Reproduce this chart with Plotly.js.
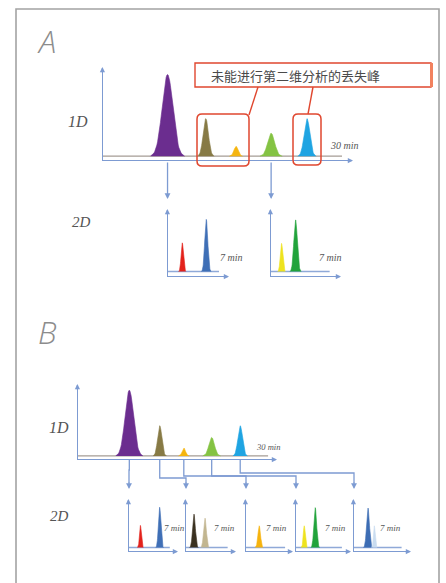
<!DOCTYPE html>
<html><head><meta charset="utf-8">
<script src="https://cdn.plot.ly/plotly-3.0.1.min.js"></script>
<style>html,body{margin:0;padding:0;background:#fff;}#chart{width:446px;height:583px;}</style>
</head><body><div id="chart"></div>
<script>
// ---------- DATA ----------
// First dimension (1D) chromatogram, 0–30 min
const peak1DNames  = ['purple', 'olive', 'orange', 'green', 'cyan'];
const peak1DTime   = [8.1, 12.9, 16.7, 21.1, 25.6];
const peak1DHeight = [100, 46, 12, 28, 46];
const peak1DWidth  = [0.67, 0.33, 0.26, 0.44, 0.36];
const peak1DColor  = ['#6b2d8f', '#877a45', '#f5b50f', '#84c343', '#1fa4e2'];

// Second dimension (2D) chromatograms, 0–7 min, one per transferred 1D peak
const fracPurpleTime = [1.9, 5.1];   const fracPurpleHeight = [55, 100];
const fracPurpleWidth = [0.15, 0.2]; const fracPurpleColor = ['#e3221b', '#3f6fb6'];
const fracOliveTime = [1.3, 3.1];    const fracOliveHeight = [83, 73];
const fracOliveWidth = [0.22, 0.22]; const fracOliveColor = ['#3a3120', '#c2b690'];
const fracOrangeTime = [2.3];        const fracOrangeHeight = [54];
const fracOrangeWidth = [0.22];      const fracOrangeColor = ['#f6b30e'];
const fracGreenTime = [1.22, 2.85];  const fracGreenHeight = [54, 99];
const fracGreenWidth = [0.14, 0.2];  const fracGreenColor = ['#eee31f', '#21a33b'];
const fracCyanTime = [2.0, 2.9];     const fracCyanHeight = [98, 54];
const fracCyanWidth = [0.2, 0.12];   const fracCyanColor = ['#3d6db4', '#c9dcf0'];

const calloutText = '未能进行第二维分析的丢失峰';

// ---------- LAYOUT HELPERS ----------
const W = 446, H = 583;
const fx = p => p / W;
const fy = p => 1 - p / H;
const AX = '#7d9bd2';
const range1DX = [0, 31.25], range1DY = [-4.7, 108];
const range2DX = [0, 8], range2DY = [-8.5, 118];

// panels: pixel boxes [x0,x1] [yTop,yBottom]
const panels = [
  {name:'A1D', x:[103,352], y:[68,160], xr:range1DX, yr:range1DY},
  {name:'A2Dpurple', x:[168,228], y:[210,276], xr:range2DX, yr:range2DY},
  {name:'A2Dgreen', x:[271,340], y:[210,276], xr:range2DX, yr:range2DY},
  {name:'B1D', x:[78,276], y:[385,459], xr:range1DX, yr:range1DY},
  {name:'B2Dpurple', x:[129,177], y:[500,551], xr:range2DX, yr:range2DY},
  {name:'B2Dolive', x:[186,235], y:[500,551], xr:range2DX, yr:range2DY},
  {name:'B2Dorange', x:[246,292], y:[500,551], xr:range2DX, yr:range2DY},
  {name:'B2Dgreen', x:[296,350], y:[500,551], xr:range2DX, yr:range2DY},
  {name:'B2Dcyan', x:[354,410], y:[500,551], xr:range2DX, yr:range2DY}
];

function peakTrace(t, h, s, color, k) {
  const xs = [t - 3.2 * s], ys = [0];
  const n = 48;
  for (let i = 0; i <= n; i++) {
    const x = t - 3.2 * s + 6.4 * s * i / n;
    xs.push(x); ys.push(h * Math.exp(-0.5 * Math.pow((x - t) / s, 2)));
  }
  xs.push(t + 3.2 * s); ys.push(0);
  const sfx = k === 1 ? '' : String(k);
  return {type:'scatter', mode:'lines', x:xs, y:ys, fill:'toself', fillcolor:color,
    line:{color:color, width:0.6}, xaxis:'x'+sfx, yaxis:'y'+sfx, hoverinfo:'skip'};
}
function baselineTrace(x0, x1, color, k) {
  const sfx = k === 1 ? '' : String(k);
  return {type:'scatter', mode:'lines', x:[x0, x1], y:[0, 0], line:{color:color, width:1.4},
    xaxis:'x'+sfx, yaxis:'y'+sfx, hoverinfo:'skip'};
}

const traces = [];
const layout = {
  width: W, height: H, margin:{l:0, r:0, t:0, b:0}, showlegend:false,
  paper_bgcolor:'#ffffff', plot_bgcolor:'rgba(0,0,0,0)',
  shapes: [], annotations: []
};

panels.forEach((p, i) => {
  const k = i + 1, sfx = k === 1 ? '' : String(k);
  layout['xaxis' + sfx] = {domain:[fx(p.x[0]), fx(p.x[1])], range:p.xr, showgrid:false, zeroline:false,
    showticklabels:false, ticks:'', showline:true, linecolor:AX, linewidth:1.3, fixedrange:true, anchor:'y'+sfx};
  layout['yaxis' + sfx] = {domain:[fy(p.y[1]), fy(p.y[0])], range:p.yr, showgrid:false, zeroline:false,
    showticklabels:false, ticks:'', showline:true, linecolor:AX, linewidth:1.3, fixedrange:true, anchor:'x'+sfx};
  // arrow tips on axes
  layout.annotations.push({xref:'paper', yref:'paper', x:fx(p.x[1] + 1), y:fy(p.y[1] + 0.6), ax:-7, ay:0,
    text:'', showarrow:true, arrowhead:2, arrowsize:0.8, arrowwidth:1.3, arrowcolor:AX});
  layout.annotations.push({xref:'paper', yref:'paper', x:fx(p.x[0] - 0.6), y:fy(p.y[0] - 1), ax:0, ay:7,
    text:'', showarrow:true, arrowhead:2, arrowsize:0.8, arrowwidth:1.3, arrowcolor:AX});
});

// 1D chromatograms in A (panel 1) and B (panel 4)
[1, 4].forEach(k => {
  traces.push(baselineTrace(0, 30, '#a59c95', k));
  peak1DTime.forEach((t, i) => traces.push(peakTrace(t, peak1DHeight[i], peak1DWidth[i], peak1DColor[i], k)));
});

// 2D chromatograms
const frac2D = [
  [2, fracPurpleTime, fracPurpleHeight, fracPurpleWidth, fracPurpleColor],
  [3, fracGreenTime, fracGreenHeight, fracGreenWidth, fracGreenColor],
  [5, fracPurpleTime, fracPurpleHeight, fracPurpleWidth, fracPurpleColor],
  [6, fracOliveTime, fracOliveHeight, fracOliveWidth, fracOliveColor],
  [7, fracOrangeTime, fracOrangeHeight, fracOrangeWidth, fracOrangeColor],
  [8, fracGreenTime, fracGreenHeight, fracGreenWidth, fracGreenColor],
  [9, fracCyanTime, fracCyanHeight, fracCyanWidth, fracCyanColor]
];
frac2D.forEach(([k, ts, hs, ws, cs]) => {
  traces.push(baselineTrace(0, 6.8, '#8fa9d8', k));
  ts.forEach((t, i) => traces.push(peakTrace(t, hs[i], ws[i], cs[i], k)));
});

// ---------- DECORATIONS ----------
const pxA = t => 103 + (t - range1DX[0]) / (range1DX[1] - range1DX[0]) * 249;
const pxB = t => 78 + (t - range1DX[0]) / (range1DX[1] - range1DX[0]) * 198;

// outer frame
layout.shapes.push({type:'rect', xref:'paper', yref:'paper', x0:fx(16), x1:fx(439), y0:fy(9), y1:fy(620),
  line:{color:'#a3a3a3', width:1.6}, fillcolor:'rgba(0,0,0,0)'});

// A: transfer arrows (purple & green peaks only)
[0, 3].forEach(i => {
  layout.annotations.push({xref:'paper', yref:'paper', x:fx(pxA(peak1DTime[i])), y:fy(199), ax:0, ay:-38,
    text:'', showarrow:true, arrowhead:2, arrowsize:0.9, arrowwidth:1.3, arrowcolor:AX});
});

// A: red highlight boxes and callout
function roundRect(x0, y0, x1, y1, r) {
  const P = (x, y) => fx(x) + ',' + fy(y);
  return 'M' + P(x0 + r, y0) + ' L' + P(x1 - r, y0) + ' Q' + P(x1, y0) + ' ' + P(x1, y0 + r) +
    ' L' + P(x1, y1 - r) + ' Q' + P(x1, y1) + ' ' + P(x1 - r, y1) +
    ' L' + P(x0 + r, y1) + ' Q' + P(x0, y1) + ' ' + P(x0, y1 - r) +
    ' L' + P(x0, y0 + r) + ' Q' + P(x0, y0) + ' ' + P(x0 + r, y0) + ' Z';
}
const RED = '#e0472f';
layout.shapes.push({type:'path', xref:'paper', yref:'paper', path:roundRect(197, 114, 249, 166, 5), line:{color:RED, width:1.5}});
layout.shapes.push({type:'path', xref:'paper', yref:'paper', path:roundRect(293, 114, 321, 165, 5), line:{color:RED, width:1.5}});
layout.shapes.push({type:'rect', xref:'paper', yref:'paper', x0:fx(195), x1:fx(431), y0:fy(63), y1:fy(87),
  line:{color:RED, width:1.4}, fillcolor:'#ffffff'});
layout.shapes.push({type:'line', xref:'paper', yref:'paper', x0:fx(431.5), x1:fx(431.5), y0:fy(63), y1:fy(87),
  line:{color:'#f2825f', width:3}});
layout.shapes.push({type:'line', xref:'paper', yref:'paper', x0:fx(249), y0:fy(115), x1:fx(258), y1:fy(87), line:{color:RED, width:1.4}});
layout.shapes.push({type:'line', xref:'paper', yref:'paper', x0:fx(308), y0:fy(114), x1:fx(313), y1:fy(87), line:{color:RED, width:1.4}});

// B: transfer routes from each 1D peak to its 2D panel
const busLevel = [470, 478, 476, 476, 473];
const targetPanel = [4, 5, 6, 7, 8];
peak1DTime.forEach((t, i) => {
  const sx = pxB(t), tx = panels[targetPanel[i]].x[0], by = busLevel[i];
  const P = (x, y) => fx(x) + ',' + fy(y);
  layout.shapes.push({type:'path', xref:'paper', yref:'paper',
    path:'M' + P(sx, 460) + ' L' + P(sx, by) + ' L' + P(tx, by) + ' L' + P(tx, 483),
    line:{color:AX, width:1.3}});
  layout.annotations.push({xref:'paper', yref:'paper', x:fx(tx), y:fy(489), ax:0, ay:-8,
    text:'', showarrow:true, arrowhead:2, arrowsize:0.9, arrowwidth:1.3, arrowcolor:AX});
});

// texts
const serifI = (size) => ({family:'Liberation Serif, DejaVu Serif, serif', size:size, color:'#555555', style:'italic'});
function label(text, x, y, font) {
  layout.annotations.push({xref:'paper', yref:'paper', x:fx(x), y:fy(y), text:text, showarrow:false,
    xanchor:'center', yanchor:'middle', font:font});
}
const bigFont = {family:'Open Sans, Liberation Sans, sans-serif', size:31, color:'#8c8c8c', style:'italic', weight:300};
label('A', 46, 41, bigFont);
label('B', 47, 332, bigFont);
label('1D', 78, 122, serifI(16));
label('2D', 81, 222, serifI(15));
label('1D', 59, 427, serifI(16));
label('2D', 59, 516, serifI(15));
label('30 min', 344, 146, serifI(10));
label('30 min', 268, 447, serifI(8.5));
label('7 min', 232, 258, serifI(10));
label('7 min', 330, 258, serifI(10));
[174, 224, 276, 335, 390].forEach(x => label('7 min', x, 528, serifI(9)));
label(calloutText, 295, 75, {family:'Noto Sans CJK SC, sans-serif', size:13, color:'#4a4a4a'});

Plotly.newPlot('chart', traces, layout, {staticPlot:true, displayModeBar:false});
</script>
</body></html>
